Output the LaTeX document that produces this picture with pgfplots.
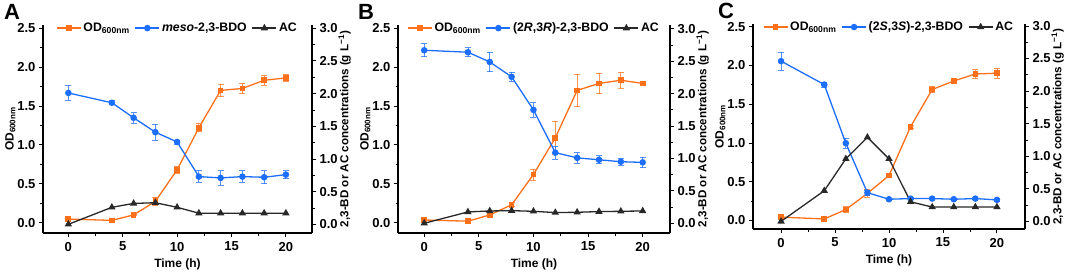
\documentclass[border=0pt]{standalone}
\usepackage{pgfplots}
\pgfplotsset{compat=1.18}
\usepackage{fontspec}
\setmainfont{Liberation Sans}
\definecolor{cOr}{RGB}{255,112,26}
\definecolor{cBl}{RGB}{28,110,255}
\definecolor{cBk}{RGB}{40,40,40}
\pgfplotsset{
  base/.style={
    scale only axis,
    font=\fontsize{13}{15}\selectfont\bfseries,
    /pgf/number format/assume math mode=true,
    tick align=outside,
    major tick length=4pt, minor tick length=2.5pt,
    every tick/.style={black, line width=0.9pt},
    axis line style={line width=1.2pt, black},
    error bars/error bar style={line width=0.8pt, opacity=0.75},
    error bars/error mark options={rotate=90, mark size=3pt, line width=0.8pt, opacity=0.75},
    clip=false,
  },
  leftax/.style={base,
    axis x line*=bottom, axis y line*=left,
    xtick={0,5,10,15,20}, minor xtick={2.5,7.5,12.5,17.5},
    ytick={0,0.5,1,1.5,2,2.5}, minor ytick={0.25,0.75,1.25,1.75,2.25},
    yticklabel style={/pgf/number format/.cd, fixed, fixed zerofill, precision=1},
    xticklabel style={yshift=-1.5pt},
    xlabel={Time (h)}, ylabel={OD\textsubscript{600nm}},
    ylabel style={yshift=-5pt, font=\fontsize{12}{14}\selectfont\bfseries},
    xlabel style={yshift=-1pt, font=\fontsize{12}{14}\selectfont\bfseries},
  },
  rightax/.style={base,
    axis y line*=right, axis x line=none,
    ytick={0,0.5,1,1.5,2,2.5,3}, minor ytick={0.25,0.75,1.25,1.75,2.25,2.75},
    yticklabel style={/pgf/number format/.cd, fixed, fixed zerofill, precision=1},
    ylabel={2,3-BD or AC concentrations (g L\textsuperscript{−1})},
    ylabel style={yshift=6pt, font=\fontsize{11.6}{14}\selectfont\bfseries},
    legend columns=3,
    legend style={draw=none, fill=none, at={(0.5,0.985)}, anchor=center,
      font=\fontsize{12.3}{14}\selectfont\bfseries,
      /tikz/every even column/.append style={column sep=3pt},
      /tikz/every odd column/.append style={column sep=0pt},
      nodes={inner xsep=2pt}},
    legend image code/.code={\draw[mark repeat=2, mark phase=2, #1] plot coordinates {(0pt,0pt) (12pt,0pt) (24pt,0pt)};},
  },
  orst/.style={color=cOr, line width=1.3pt, mark=square*, mark size=2.2pt, mark options={solid, fill=cOr, draw=cOr}},
  blst/.style={color=cBl, line width=1.3pt, mark=*, mark size=2.6pt, mark options={solid, fill=cBl, draw=cBl}},
  bkst/.style={color=cBk, line width=1.3pt, mark=triangle*, mark size=3pt, mark options={solid, fill=cBk, draw=cBk}},
}
\begin{document}
\begin{tikzpicture}
\path[use as bounding box] (0pt,0pt) rectangle (1065pt,271pt);
\node[font=\fontsize{22}{22}\selectfont\bfseries] at (12pt,259pt) {A};
\node[font=\fontsize{22}{22}\selectfont\bfseries] at (366pt,259pt) {B};
\node[font=\fontsize{22}{22}\selectfont\bfseries] at (726pt,260pt) {C};

% ---------- Panel A ----------
\begin{axis}[leftax, at={(43pt,38pt)}, anchor=south west, width=269pt, height=208pt,
  xmin=-2.33, xmax=22.4, ymin=-0.132, ymax=2.54]
\addplot[orst, error bars/.cd, y dir=both, y explicit] coordinates {
 (0,0.047) +- (0,0.01) (4,0.03) +- (0,0.01) (6,0.10) +- (0,0.01) (8,0.275) +- (0,0.055)
 (10,0.68) +- (0,0.04) (12,1.22) +- (0,0.05) (14,1.70) +- (0,0.08) (16,1.725) +- (0,0.065)
 (18,1.83) +- (0,0.065) (20,1.86) +- (0,0.045)};
\end{axis}
\begin{axis}[rightax, at={(43pt,38pt)}, anchor=south west, width=269pt, height=208pt,
  xmin=-2.33, xmax=22.4, ymin=-0.133, ymax=3.05]
\addlegendimage{orst}
\addlegendentry{OD\textsubscript{600nm}}
\addplot[blst, error bars/.cd, y dir=both, y explicit] coordinates {
 (0,2.01) +- (0,0.11) (4,1.86) +- (0,0.03) (6,1.63) +- (0,0.08) (8,1.41) +- (0,0.12)
 (10,1.26) +- (0,0.03) (12,0.73) +- (0,0.09) (14,0.71) +- (0,0.11) (16,0.73) +- (0,0.09)
 (18,0.72) +- (0,0.10) (20,0.76) +- (0,0.06)};
\addlegendentry{\textit{meso}-2,3-BDO}
\addplot[bkst] coordinates {
 (0,0.0) (4,0.26) (6,0.32) (8,0.33) (10,0.26) (12,0.17) (14,0.17) (16,0.17) (18,0.17) (20,0.17)};
\addlegendentry{AC}
\end{axis}

% ---------- Panel B ----------
\begin{axis}[leftax, at={(398pt,38pt)}, anchor=south west, width=272pt, height=208pt,
  xmin=-2.4, xmax=22.5, ymin=-0.132, ymax=2.54]
\addplot[orst, error bars/.cd, y dir=both, y explicit] coordinates {
 (0,0.035) +- (0,0.01) (4,0.02) +- (0,0.01) (6,0.10) +- (0,0.01) (8,0.23) +- (0,0.025)
 (10,0.62) +- (0,0.07) (12,1.09) +- (0,0.215) (14,1.70) +- (0,0.21) (16,1.79) +- (0,0.13)
 (18,1.83) +- (0,0.10) (20,1.79) +- (0,0.02)};
\end{axis}
\begin{axis}[rightax, at={(398pt,38pt)}, anchor=south west, width=272pt, height=208pt,
  xmin=-2.4, xmax=22.5, ymin=-0.15, ymax=3.06]
\addlegendimage{orst}
\addlegendentry{OD\textsubscript{600nm}}
\addplot[blst, error bars/.cd, y dir=both, y explicit] coordinates {
 (0,2.67) +- (0,0.10) (4,2.64) +- (0,0.07) (6,2.49) +- (0,0.15) (8,2.26) +- (0,0.07)
 (10,1.75) +- (0,0.11) (12,1.09) +- (0,0.10) (14,1.01) +- (0,0.08) (16,0.98) +- (0,0.06)
 (18,0.95) +- (0,0.05) (20,0.94) +- (0,0.08)};
\addlegendentry{(2\textit{R},3\textit{R})-2,3-BDO}
\addplot[bkst] coordinates {
 (0,0.0) (4,0.175) (6,0.19) (8,0.195) (10,0.185) (12,0.165) (14,0.17) (16,0.18) (18,0.185) (20,0.19)};
\addlegendentry{AC}
\end{axis}

% ---------- Panel C ----------
\begin{axis}[leftax, at={(753pt,42pt)}, anchor=south west, width=272pt, height=205pt,
  xmin=-2.6, xmax=22.6, ymin=-0.11, ymax=2.535]
\addplot[orst, error bars/.cd, y dir=both, y explicit] coordinates {
 (0,0.043) +- (0,0.015) (4,0.02) +- (0,0.01) (6,0.14) +- (0,0.04) (8,0.35) +- (0,0.05)
 (10,0.58) +- (0,0.02) (12,1.21) +- (0,0.02) (14,1.69) +- (0,0.04) (16,1.80) +- (0,0.02)
 (18,1.89) +- (0,0.055) (20,1.90) +- (0,0.065)};
\end{axis}
\begin{axis}[rightax, at={(753pt,42pt)}, anchor=south west, width=272pt, height=205pt,
  xmin=-2.6, xmax=22.6, ymin=-0.117, ymax=3.03]
\addlegendimage{orst}
\addlegendentry{OD\textsubscript{600nm}}
\addplot[blst, error bars/.cd, y dir=both, y explicit] coordinates {
 (0,2.46) +- (0,0.14) (4,2.10) +- (0,0.04) (6,1.20) +- (0,0.075) (8,0.44) +- (0,0.04)
 (10,0.34) +- (0,0.02) (12,0.35) +- (0,0.02) (14,0.35) +- (0,0.02) (16,0.34) +- (0,0.02)
 (18,0.35) +- (0,0.02) (20,0.33) +- (0,0.02)};
\addlegendentry{(2\textit{S},3\textit{S})-2,3-BDO}
\addplot[bkst] coordinates {
 (0,0.0) (4,0.47) (6,0.96) (8,1.29) (10,0.96) (12,0.30) (14,0.22) (16,0.22) (18,0.22) (20,0.22)};
\addlegendentry{AC}
\end{axis}
\end{tikzpicture}
\end{document}
